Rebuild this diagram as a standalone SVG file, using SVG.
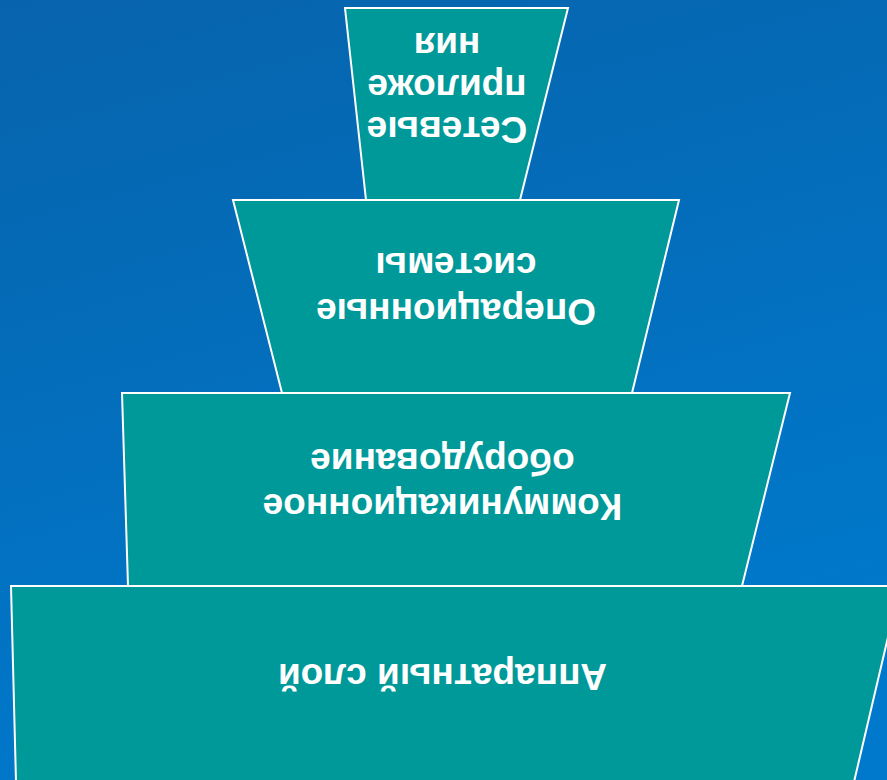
<svg xmlns="http://www.w3.org/2000/svg" width="887" height="780" viewBox="0 0 887 780">
<defs>
<linearGradient id="bg" x1="0" y1="0" x2="0.3" y2="1">
<stop offset="0" stop-color="#0763ac"/>
<stop offset="1" stop-color="#0079cc"/>
</linearGradient>
<style>
.layer{fill:#009999;stroke:#ffffff;stroke-width:2}
.lbl{font-family:"Liberation Sans",Arial,sans-serif;font-weight:bold;font-size:37px;fill:#ffffff;text-anchor:middle}
</style>
</defs>
<rect x="0" y="0" width="887" height="780" fill="url(#bg)"/>
<g id="node-apparatny">
<polygon class="layer" points="11,586 900,586 854,782 16,782"/>
<text class="lbl" transform="translate(442.5,664) rotate(180)">Аппаратный слой</text>
</g>
<g id="node-kommunikatsionnoe">
<polygon class="layer" points="122,393 790,393 742,586 128,586"/>
<text class="lbl" transform="translate(442.5,494) rotate(180)"><tspan x="0" y="0">Коммуникационное</tspan><tspan x="0" y="45">оборудование</tspan></text>
</g>
<g id="node-operatsionnye">
<polygon class="layer" points="233,200 679,200 632,393 282,393"/>
<text class="lbl" transform="translate(456,299) rotate(180)"><tspan x="0" y="0">Операционные</tspan><tspan x="0" y="46">системы</tspan></text>
</g>
<g id="node-setevye">
<polygon class="layer" points="345,8 568,8 520,200 366,200"/>
<text class="lbl" transform="translate(447,117) rotate(180)"><tspan x="0" y="0">Сетевые</tspan><tspan x="0" y="42">приложе</tspan><tspan x="0" y="84">ния</tspan></text>
</g>
<g id="connectors"></g>
</svg>
